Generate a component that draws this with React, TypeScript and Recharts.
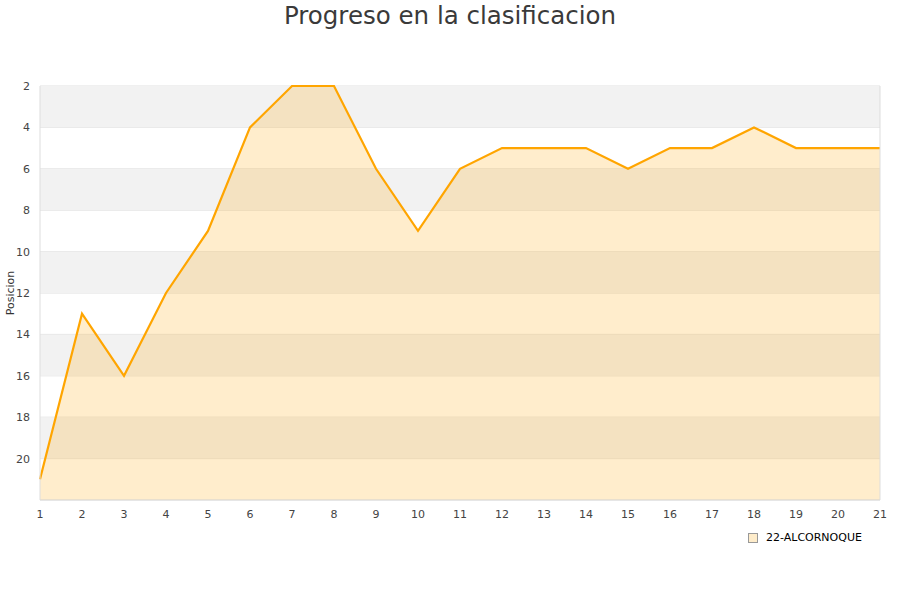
import { Area, AreaChart, CartesianGrid, ReferenceArea, ReferenceLine, XAxis, YAxis } from 'recharts'

// Position per matchday (lower is better)
const jornadas = [1, 2, 3, 4, 5, 6, 7, 8, 9, 10, 11, 12, 13, 14, 15, 16, 17, 18, 19, 20, 21]
const posiciones = [21, 13, 16, 12, 9, 4, 2, 2, 6, 9, 6, 5, 5, 5, 6, 5, 5, 4, 5, 5, 5]
const yTicks = [2, 4, 6, 8, 10, 12, 14, 16, 18, 20]
const grayBands = [[2, 4], [6, 8], [10, 12], [14, 16], [18, 20]]
const teamName = '22-ALCORNOQUE'

const data = jornadas.map((j, i) => ({ jornada: j, posicion: posiciones[i] }))

const font = "'DejaVu Sans', sans-serif"
const tickStyle = { fontSize: 11, fill: '#444', fontFamily: font }

export default function App() {
  return (
    <div style={{ position: 'absolute', left: 0, top: 0, width: 900, height: 600, background: '#fff', fontFamily: font }}>
      <div
        style={{
          position: 'absolute',
          top: 0,
          left: 0,
          width: 900,
          textAlign: 'center',
          fontSize: 24.5,
          color: '#3a3a3a',
          lineHeight: '31px',
        }}
      >
        Progreso en la clasificacion
      </div>
      <AreaChart width={900} height={600} data={data} margin={{ top: 86, right: 20, bottom: 70, left: 0 }}>
        {grayBands.map(([a, b]) => (
          <ReferenceArea key={a} y1={a} y2={b} fill='#f2f2f2' fillOpacity={1} stroke='none' ifOverflow='visible' />
        ))}
        <CartesianGrid vertical={false} stroke='#e0e0e0' />
        <XAxis
          dataKey='jornada'
          type='number'
          domain={[1, 21]}
          ticks={jornadas}
          tick={tickStyle}
          tickLine={false}
          axisLine={{ stroke: '#ddd' }}
          height={30}
          tickMargin={4}
        />
        <YAxis
          reversed
          type='number'
          domain={[2, 22]}
          ticks={yTicks}
          tick={tickStyle}
          tickLine={false}
          axisLine={{ stroke: '#ddd' }}
          width={40}
          tickMargin={4}
          label={{
            value: 'Posicion',
            angle: -90,
            position: 'insideLeft',
            offset: 10,
            style: { fontSize: 11, fill: '#333', fontFamily: font, textAnchor: 'middle' },
          }}
        />
        <ReferenceLine x={21} stroke='#ddd' />
        <Area
          type='linear'
          dataKey='posicion'
          baseValue={22}
          stroke='#ffa500'
          strokeWidth={2.2}
          fill='#ffa500'
          fillOpacity={0.2}
          dot={false}
          activeDot={false}
          isAnimationActive={false}
        />
      </AreaChart>
      <div style={{ position: 'absolute', left: 748, top: 531, display: 'flex', alignItems: 'center', fontSize: 11, color: '#000' }}>
        <span
          style={{ display: 'inline-block', width: 8, height: 8, background: '#feecca', border: '1px solid #999', marginRight: 8 }}
        />
        {teamName}
      </div>
    </div>
  )
}
